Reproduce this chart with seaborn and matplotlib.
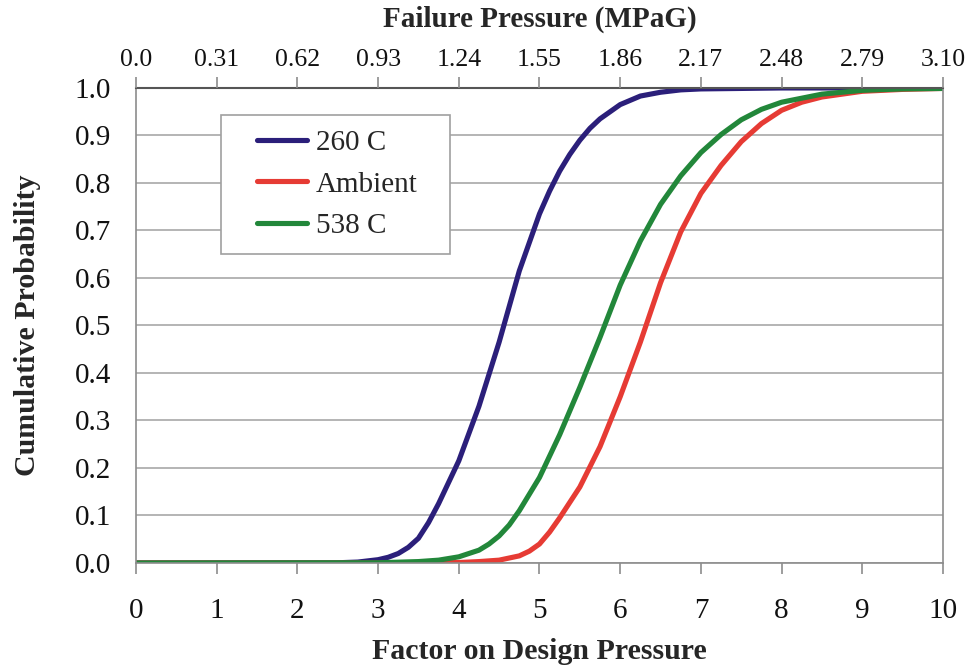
import pandas as pd
import matplotlib
matplotlib.use("Agg")
import matplotlib.pyplot as plt
from matplotlib.legend_handler import HandlerLine2D
import seaborn as sns

# --- dados ---
series = ["260 C", "Ambient", "538 C"]

x_260 = [0, 2.5, 2.75, 3.0, 3.125, 3.25, 3.375, 3.5, 3.625, 3.75, 4.0, 4.25,
         4.5, 4.75, 5.0, 5.125, 5.25, 5.375, 5.5, 5.625, 5.75, 6.0, 6.25, 6.5,
         6.75, 7.0, 7.5, 8.0, 10]
y_260 = [0, 0.0005, 0.002, 0.007, 0.012, 0.02, 0.033, 0.052, 0.085, 0.125, 0.215,
         0.33, 0.465, 0.615, 0.735, 0.783, 0.825, 0.86, 0.89, 0.915, 0.935, 0.965,
         0.983, 0.991, 0.996, 0.998, 0.999, 1.0, 1.0]

x_amb = [0, 3.5, 4.0, 4.25, 4.5, 4.75, 4.875, 5.0, 5.125, 5.25, 5.5, 5.75, 6.0,
         6.25, 6.5, 6.75, 7.0, 7.25, 7.5, 7.75, 8.0, 8.25, 8.5, 9.0, 9.5, 10]
y_amb = [0, 0, 0.001, 0.003, 0.006, 0.015, 0.025, 0.04, 0.065, 0.095, 0.16,
         0.245, 0.35, 0.465, 0.59, 0.697, 0.778, 0.837, 0.887, 0.925, 0.953,
         0.97, 0.981, 0.993, 0.997, 0.999]

x_538 = [0, 3.0, 3.5, 3.75, 4.0, 4.25, 4.375, 4.5, 4.625, 4.75, 5.0, 5.25, 5.5,
         5.75, 6.0, 6.25, 6.5, 6.75, 7.0, 7.25, 7.5, 7.75, 8.0, 8.5, 9.0, 9.5, 10]
y_538 = [0, 0.0005, 0.003, 0.006, 0.013, 0.027, 0.04, 0.057, 0.08, 0.11, 0.18,
         0.27, 0.37, 0.475, 0.585, 0.678, 0.755, 0.815, 0.864, 0.902, 0.933,
         0.955, 0.97, 0.987, 0.995, 0.998, 0.999]

x_ticks = list(range(0, 11))
y_ticks = [0.0, 0.1, 0.2, 0.3, 0.4, 0.5, 0.6, 0.7, 0.8, 0.9, 1.0]
top_labels = ["0.0", "0.31", "0.62", "0.93", "1.24", "1.55", "1.86", "2.17",
              "2.48", "2.79", "3.10"]

cores = {"260 C": "#2b1f7a", "Ambient": "#e63b34", "538 C": "#22873a"}

df = pd.concat([
    pd.DataFrame({"fator": x_260, "prob": y_260, "serie": "260 C"}),
    pd.DataFrame({"fator": x_amb, "prob": y_amb, "serie": "Ambient"}),
    pd.DataFrame({"fator": x_538, "prob": y_538, "serie": "538 C"}),
], ignore_index=True)

sns.set_theme(style="white")
plt.rcParams["font.family"] = ["Liberation Serif", "DejaVu Serif"]

fig = plt.figure(figsize=(9.67, 6.7), dpi=100)
ax = fig.add_axes([0.1406, 0.1597, 0.8346, 0.709])

cinza = "#8c8c8c"
for y in y_ticks:
    ax.axhline(y, color="#a8a8a8", lw=1.2, zorder=0)

sns.lineplot(data=df, x="fator", y="prob", hue="serie", hue_order=series,
             palette=cores, lw=3.7, ax=ax, legend=False, estimator=None,
             sort=False, solid_joinstyle="round", solid_capstyle="butt")

ax.set_xlim(0, 10)
ax.set_ylim(0, 1)
ax.set_xticks(x_ticks)
ax.set_yticks(y_ticks)
ax.set_yticklabels([f"{v:.1f}" for v in y_ticks])
ax.tick_params(axis="both", direction="out", length=8, width=1.2, color=cinza,
               labelsize=21, colors="#111111")
ax.tick_params(axis="x", pad=17)
ax.tick_params(axis="y", pad=10)
for lado in ["left", "bottom", "right"]:
    ax.spines[lado].set_color(cinza)
    ax.spines[lado].set_linewidth(1.2)
ax.spines["top"].set_color("#555555")
ax.spines["top"].set_linewidth(1.5)

ax.set_xlabel("Factor on Design Pressure", fontsize=21.5, fontweight="bold", labelpad=10)
ax.set_ylabel("Cumulative Probability", fontsize=21.5, fontweight="bold", labelpad=24)

ax2 = ax.twiny()
ax2.set_xlim(0, 10)
ax2.set_xticks(x_ticks)
ax2.set_xticklabels(top_labels)
ax2.tick_params(axis="x", direction="out", length=8, width=1.2, color=cinza,
                labelsize=18.5, colors="#111111", pad=4)
for s in ax2.spines.values():
    s.set_visible(False)
ax2.set_xlabel("Failure Pressure (MPaG)", fontsize=21, fontweight="bold", labelpad=16)

handles = [plt.Line2D([], [], color=cores[s], lw=3.7) for s in series]
leg = ax.legend(handles, series, loc="upper left", mode="expand",
                bbox_to_anchor=(0.1053, 0.0, 0.2838, 0.943),
                borderaxespad=0, fontsize=21, frameon=True, fancybox=False,
                edgecolor="#a0a0a0", framealpha=1, handlelength=2.45,
                handletextpad=0.3, labelspacing=0.52, borderpad=0.5,
                handler_map={plt.Line2D: HandlerLine2D(xpad=0.75)})
leg.get_frame().set_linewidth(1.2)
leg.set_zorder(5)

fig.savefig("out.png", dpi=100)
